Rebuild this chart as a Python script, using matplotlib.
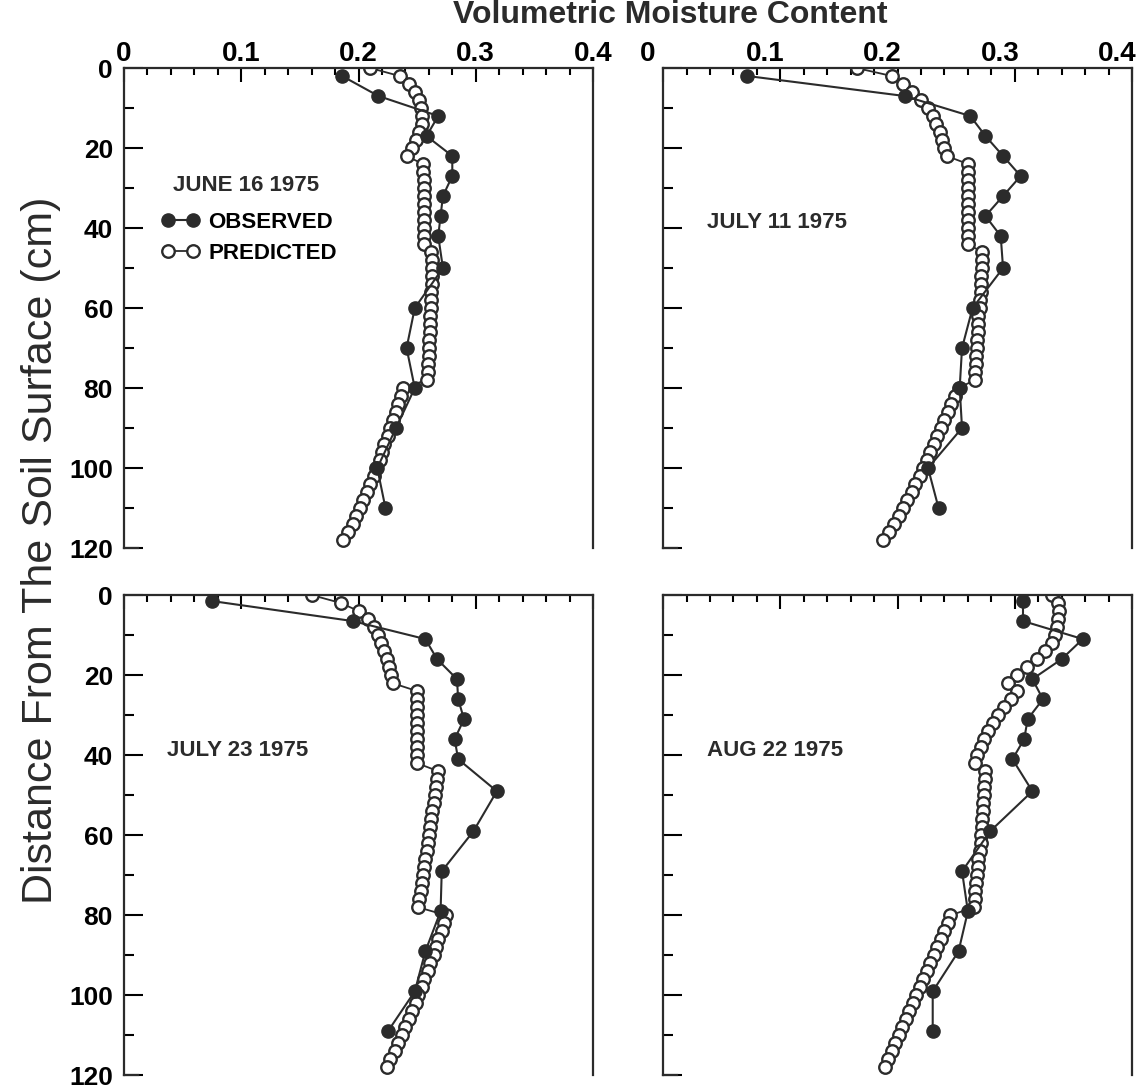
import matplotlib
matplotlib.use('Agg')
from matplotlib import rc, pyplot as plt, ticker as mticker
from matplotlib.transforms import ScaledTranslation

rc('font', family=['Liberation Sans', 'DejaVu Sans'], weight='bold', size=19)

ink = '#2b2b2b'

# depths of observed points (cm)
obs_depth_top = [2, 7, 12, 17, 22, 27, 32, 37, 42, 50, 60, 70, 80, 90, 100, 110]
obs_depth_bot = [1.5, 6.5, 11, 16, 21, 26, 31, 36, 41, 49, 59, 69, 79, 89, 99, 109]

# predicted profile depths (cm)
pred_depth = [0, 2, 4, 6, 8, 10, 12, 14, 16, 18, 20, 22, 24, 26, 28, 30, 32, 34, 36, 38,
              40, 42, 44, 46, 48, 50, 52, 54, 56, 58, 60, 62, 64, 66, 68, 70, 72, 74, 76, 78,
              80, 82, 84, 86, 88, 90, 92, 94, 96, 98, 100, 102, 104, 106, 108, 110, 112, 114, 116, 118]

# June 16 1975
jun_obs = [0.186, 0.217, 0.268, 0.258, 0.280, 0.280, 0.272, 0.270, 0.268, 0.272,
           0.248, 0.241, 0.248, 0.232, 0.216, 0.223]
jun_pred = [0.210, 0.235, 0.243, 0.248, 0.252, 0.253, 0.254, 0.254, 0.252, 0.249, 0.246, 0.241,
            0.255, 0.255, 0.256, 0.256, 0.256, 0.256, 0.256, 0.256, 0.256, 0.256, 0.256,
            0.262, 0.263, 0.263, 0.263, 0.263, 0.262, 0.262, 0.262, 0.261, 0.261, 0.261,
            0.260, 0.260, 0.260, 0.259, 0.259, 0.258,
            0.238, 0.236, 0.234, 0.232, 0.229, 0.227, 0.225, 0.222, 0.220, 0.218,
            0.215, 0.213, 0.210, 0.207, 0.204, 0.201, 0.198, 0.195, 0.191, 0.187]

# July 11 1975
jul11_obs = [0.072, 0.206, 0.262, 0.275, 0.290, 0.305, 0.290, 0.275, 0.288, 0.290,
             0.264, 0.255, 0.253, 0.255, 0.226, 0.235]
jul11_pred = [0.165, 0.195, 0.205, 0.212, 0.220, 0.226, 0.230, 0.233, 0.236, 0.238, 0.240, 0.242,
              0.260, 0.260, 0.260, 0.260, 0.260, 0.260, 0.260, 0.260, 0.260, 0.260, 0.260,
              0.272, 0.272, 0.272, 0.271, 0.271, 0.271, 0.270, 0.270, 0.269, 0.269, 0.269,
              0.268, 0.268, 0.267, 0.267, 0.266, 0.266,
              0.252, 0.249, 0.246, 0.243, 0.240, 0.237, 0.234, 0.231, 0.228, 0.225,
              0.222, 0.219, 0.215, 0.212, 0.208, 0.205, 0.201, 0.197, 0.193, 0.188]

# July 23 1975
jul23_obs = [0.075, 0.195, 0.257, 0.267, 0.284, 0.285, 0.290, 0.282, 0.285, 0.318,
             0.298, 0.271, 0.270, 0.257, 0.248, 0.225]
jul23_pred = [0.160, 0.185, 0.200, 0.208, 0.213, 0.217, 0.219, 0.222, 0.224, 0.226, 0.228, 0.229,
              0.250, 0.250, 0.250, 0.250, 0.250, 0.250, 0.250, 0.250, 0.250, 0.250,
              0.268, 0.267, 0.266, 0.265, 0.264, 0.263, 0.262, 0.261, 0.260, 0.259, 0.258,
              0.257, 0.256, 0.255, 0.254, 0.253, 0.252, 0.251,
              0.275, 0.273, 0.271, 0.268, 0.266, 0.264, 0.261, 0.259, 0.256, 0.254,
              0.251, 0.249, 0.246, 0.243, 0.240, 0.237, 0.234, 0.231, 0.227, 0.224]

# Aug 22 1975
aug_obs = [0.307, 0.307, 0.358, 0.340, 0.315, 0.324, 0.311, 0.308, 0.298, 0.315,
           0.279, 0.255, 0.260, 0.252, 0.230, 0.230]
aug_pred = [0.332, 0.337, 0.338, 0.337, 0.336, 0.334, 0.332, 0.326, 0.319, 0.310, 0.302, 0.294,
            0.302, 0.297, 0.291, 0.286, 0.281, 0.277, 0.274, 0.271, 0.268, 0.266,
            0.275, 0.275, 0.274, 0.274, 0.273, 0.273, 0.272, 0.272, 0.271, 0.271, 0.270,
            0.269, 0.269, 0.268, 0.267, 0.266, 0.266, 0.265,
            0.245, 0.243, 0.240, 0.237, 0.234, 0.231, 0.228, 0.225, 0.222, 0.219,
            0.216, 0.213, 0.210, 0.207, 0.204, 0.201, 0.198, 0.195, 0.192, 0.189]

fig = plt.figure(figsize=(11.43, 10.88), dpi=100)


def panel(rect, obs_d, obs_v, pred_v, date, date_xy, top_labels, left_labels, legend=False):
    ax = fig.add_axes(rect)
    l_pred, = ax.plot(pred_v, pred_depth, '-', color=ink, lw=1.3, marker='o', ms=9,
                      mfc='white', mec=ink, mew=1.7, label='PREDICTED')
    l_obs, = ax.plot(obs_v, obs_d, '-', color=ink, lw=1.5, marker='o', ms=9.5,
                     mfc=ink, mec=ink, label='OBSERVED')
    ax.set_xlim(0, 0.4)
    ax.set_ylim(120, 0)
    ax.xaxis.tick_top()
    ax.set_xticks([0, 0.1, 0.2, 0.3, 0.4])
    ax.xaxis.set_minor_locator(mticker.MultipleLocator(0.02))
    ax.xaxis.set_major_formatter(mticker.FuncFormatter(lambda v, p: '0' if v == 0 else f'{v:.1f}'))
    ax.set_yticks([0, 20, 40, 60, 80, 100, 120])
    ax.yaxis.set_minor_locator(mticker.MultipleLocator(10))
    ax.tick_params(axis='x', which='major', direction='in', length=10, width=1.5, pad=1,
                   top=True, bottom=False, labeltop=top_labels, labelbottom=False, labelsize=20)
    ax.tick_params(axis='x', which='minor', direction='in', length=5, width=1.5,
                   top=True, bottom=False)
    ax.tick_params(axis='y', which='major', direction='in', length=14, width=1.5, pad=8,
                   left=True, right=False, labelleft=left_labels)
    ax.tick_params(axis='y', which='minor', direction='in', length=7, width=1.5,
                   left=True, right=False)
    for s in ['top', 'left', 'right']:
        ax.spines[s].set_linewidth(1.6)
        ax.spines[s].set_color(ink)
    ax.spines['bottom'].set_visible(False)
    # short corner stub on the bottom edge
    ax.plot([0, 0.03], [0, 0], color=ink, lw=1.6, transform=ax.transAxes, clip_on=False)
    ax.text(date_xy[0], date_xy[1], date, transform=ax.transAxes, fontsize=16,
            ha='left', va='center', color=ink)
    if legend:
        ax.legend(handles=[l_obs, l_pred], numpoints=2, frameon=False, loc='upper left',
                  bbox_to_anchor=(0.08, 0.70), borderaxespad=0, borderpad=0,
                  handlelength=1.7, handletextpad=0.4, labelspacing=0.45, fontsize=16)
    return ax


ax1 = panel([0.1085, 0.4963, 0.4103, 0.4412], obs_depth_top, jun_obs, jun_pred,
            'JUNE 16 1975', (0.105, 0.756), True, True, legend=True)
ax2 = panel([0.5801, 0.4963, 0.4103, 0.4412], obs_depth_top, jul11_obs, jul11_pred,
            'JULY 11 1975', (0.094, 0.679), True, False)
ax3 = panel([0.1085, 0.0115, 0.4103, 0.4416], obs_depth_bot, jul23_obs, jul23_pred,
            'JULY 23 1975', (0.092, 0.676), False, True)
ax4 = panel([0.5801, 0.0115, 0.4103, 0.4416], obs_depth_bot, aug_obs, aug_pred,
            'AUG 22 1975', (0.094, 0.676), False, False)

# tick labels of the right-hand panel sit a bit left of their ticks
shift = ScaledTranslation(-0.15, 0, fig.dpi_scale_trans)
for t in ax2.xaxis.get_major_ticks():
    t.label2.set_transform(t.label2.get_transform() + shift)

fig.text(0.586, 0.986, 'Volumetric Moisture Content', ha='center', va='center',
         fontsize=23, color=ink)
fig.text(0.036, 0.4945, 'Distance From The Soil Surface (cm)', rotation=90,
         ha='center', va='center', fontsize=31, weight='normal', color=ink)

plt.savefig('out.png', dpi=100)
